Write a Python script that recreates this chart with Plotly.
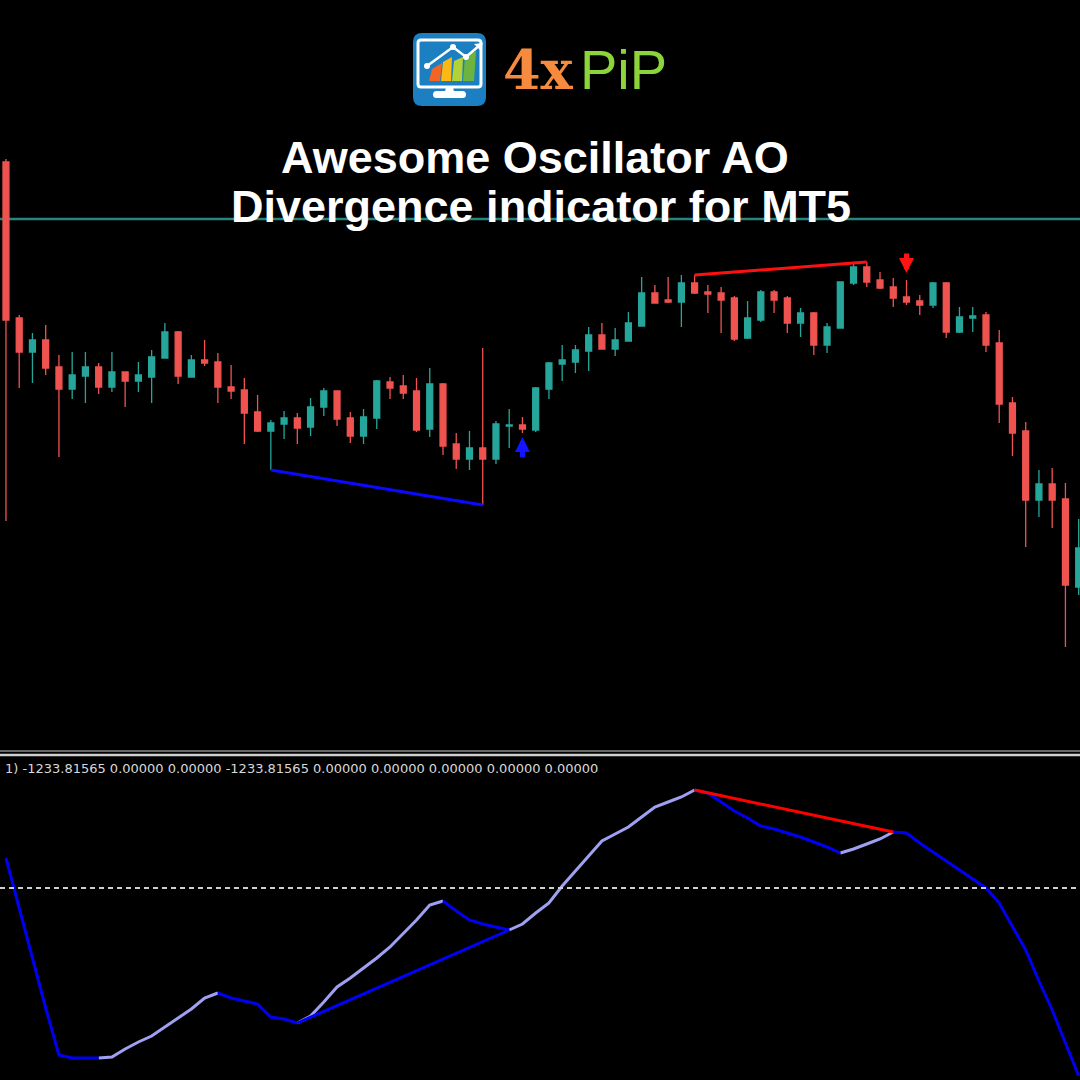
import plotly.graph_objects as go

# ---------------- data ----------------
bars = list(range(82))
open_ = [838, 682, 648, 660, 633, 611, 624, 633, 613, 628, 619, 623, 642, 668, 623, 640, 638, 613, 610, 588,
         569, 576, 582, 573, 593, 609, 582, 564, 582, 618, 614, 609, 571, 616, 556, 541, 552, 541, 574, 575,
         570, 611, 636, 638, 649, 665, 651, 659, 674, 707, 700, 698, 717, 708, 707, 702, 662, 680, 708, 702,
         677, 687, 655, 672, 717, 733, 720, 713, 703, 699, 695, 717, 668, 682, 685, 657, 597, 569, 500, 516,
         501, 413]
high = [841, 685, 667, 675, 645, 648, 648, 637, 648, 628, 638, 650, 677, 669, 645, 660, 647, 635, 622, 605,
        580, 589, 587, 602, 612, 609, 588, 591, 620, 623, 625, 622, 632, 617, 567, 569, 652, 579, 591, 583,
        613, 638, 655, 655, 673, 677, 672, 688, 723, 715, 723, 725, 725, 715, 713, 704, 699, 710, 710, 704,
        692, 688, 677, 718, 737, 738, 728, 722, 720, 705, 718, 718, 693, 693, 688, 670, 603, 578, 530, 532,
        517, 481]
low = [479, 612, 617, 625, 543, 601, 597, 606, 608, 593, 608, 597, 642, 616, 623, 634, 597, 601, 556, 568,
       530, 561, 556, 564, 584, 574, 557, 556, 571, 601, 601, 568, 563, 545, 531, 530, 495, 536, 552, 567,
       568, 601, 619, 627, 629, 651, 644, 659, 674, 697, 697, 673, 706, 687, 667, 659, 661, 678, 687, 667,
       663, 645, 647, 672, 715, 713, 711, 693, 695, 685, 692, 662, 667, 668, 648, 577, 544, 453, 483, 472,
       353, 405]
close = [680, 648, 660, 632, 611, 625, 633, 613, 628, 619, 625, 643, 668, 624, 640, 637, 613, 609, 587, 569,
         577, 582, 572, 593, 609, 581, 564, 583, 619, 612, 607, 570, 616, 554, 541, 552, 541, 576, 575, 571,
         612, 637, 640, 650, 665, 651, 660, 677, 707, 697, 698, 717, 707, 706, 700, 661, 682, 708, 700, 677,
         687, 655, 673, 718, 733, 718, 712, 702, 698, 695, 717, 668, 683, 684, 655, 596, 567, 500, 516, 500,
         415, 452]

resistance_level = 781

# Awesome Oscillator values per bar
ao = [30, -20, -70, -120, -167, -170, -170, -170, -169, -161, -154, -148, -139, -130, -121, -110, -105,
      -110, -113, -116, -129, -131, -135, -128, -114, -99, -90, -80, -70, -59, -46, -32, -17, -13, -23,
      -32, -36, -39, -42, -36, -25, -15, 2, 17, 32, 47, 54, 61, 71, 81, 86, 91, 98, 95, 86, 77, 70, 62,
      59, 55, 51, 46, 41, 35, 39, 44, 49, 56, 55, 45, 36, 27, 18, 9, 0, -15, -38, -62, -93, -122, -155,
      -188]
# 1 = rising (light colour), 0 = falling (dark colour)
ao_rising = [0, 0, 0, 0, 0, 0, 0, 0, 1, 1, 1, 1, 1, 1, 1, 1, 1, 0, 0, 0, 0, 0, 0, 1, 1, 1, 1, 1, 1, 1,
             1, 1, 1, 1, 0, 0, 0, 0, 0, 1, 1, 1, 1, 1, 1, 1, 1, 1, 1, 1, 1, 1, 1, 0, 0, 0, 0, 0, 0, 0,
             0, 0, 0, 0, 1, 1, 1, 1, 0, 0, 0, 0, 0, 0, 0, 0, 0, 0, 0, 0, 0, 0]

# divergences: (bar, value) pairs
bull_div_price = ([20, 36], [530, 495])
bear_div_price = ([52, 65], [725, 738])
bull_div_ao = ([22, 38], [-135, -42])
bear_div_ao = ([52, 67], [98, 56])
buy_arrow = (39, 563, 541)    # bar, tip, tail
sell_arrow = (68, 727, 748)

title_lines = ["Awesome Oscillator AO", "Divergence indicator for MT5"]
ao_label = "1) -1233.81565 0.00000 0.00000 -1233.81565 0.00000 0.00000 0.00000 0.00000 0.00000"

# ---------------- figure ----------------
W = H = 1080
def px(x):
    return x / W
def py(y):
    return 1 - y / H

UP = "#26a69a"
DN = "#ef5350"
LIGHT = "#a0a0f2"
DARK = "#0000f0"

fig = go.Figure()

fig.add_trace(go.Candlestick(
    x=bars, open=open_, high=high, low=low, close=close,
    increasing=dict(line=dict(color=UP, width=1.3), fillcolor=UP),
    decreasing=dict(line=dict(color=DN, width=1.3), fillcolor=DN),
    whiskerwidth=0, xaxis="x", yaxis="y", hoverinfo="skip", showlegend=False,
))

fig.add_trace(go.Scatter(x=bull_div_price[0], y=bull_div_price[1], mode="lines",
                         line=dict(color="#0a0aff", width=3), xaxis="x", yaxis="y", hoverinfo="skip"))
fig.add_trace(go.Scatter(x=bear_div_price[0], y=bear_div_price[1], mode="lines",
                         line=dict(color="#ff1010", width=3), xaxis="x", yaxis="y", hoverinfo="skip"))

# oscillator coloured segments
segs = {0: ([], []), 1: ([], [])}
prev = None
for i in range(1, len(ao)):
    f = ao_rising[i]
    X, Y = segs[f]
    if prev != f:
        if X:
            X.append(None); Y.append(None)
        X.append(bars[i - 1]); Y.append(ao[i - 1])
    X.append(bars[i]); Y.append(ao[i])
    prev = f
for f, col in ((1, LIGHT), (0, DARK)):
    fig.add_trace(go.Scatter(x=segs[f][0], y=segs[f][1], mode="lines",
                             line=dict(color=col, width=3), xaxis="x", yaxis="y2",
                             hoverinfo="skip", connectgaps=False))

fig.add_trace(go.Scatter(x=bull_div_ao[0], y=bull_div_ao[1], mode="lines",
                         line=dict(color="#0000ff", width=3), xaxis="x", yaxis="y2", hoverinfo="skip"))
fig.add_trace(go.Scatter(x=bear_div_ao[0], y=bear_div_ao[1], mode="lines",
                         line=dict(color="#ff0000", width=3), xaxis="x", yaxis="y2", hoverinfo="skip"))

shapes = []
# resistance line
shapes.append(dict(type="line", xref="paper", x0=0, x1=1, yref="y", y0=resistance_level, y1=resistance_level,
                   line=dict(color="#2a847e", width=2.5), layer="below"))
# zero dashed line of oscillator
shapes.append(dict(type="line", xref="paper", x0=0, x1=1, yref="y2", y0=0, y1=0,
                   line=dict(color="#cfcfcf", width=2, dash="5px,4px")))
# panel separator
shapes.append(dict(type="line", xref="paper", yref="paper", x0=0, x1=1, y0=py(751), y1=py(751),
                   line=dict(color="#8a8a8a", width=1.5)))
shapes.append(dict(type="line", xref="paper", yref="paper", x0=0, x1=1, y0=py(755), y1=py(755),
                   line=dict(color="#cfcfcf", width=2.5)))

# ---- logo icon ----
def rrect(x0, y0, x1, y1, r):
    pts = (f"M {px(x0 + r)},{py(y0)} L {px(x1 - r)},{py(y0)} Q {px(x1)},{py(y0)} {px(x1)},{py(y0 + r)} "
           f"L {px(x1)},{py(y1 - r)} Q {px(x1)},{py(y1)} {px(x1 - r)},{py(y1)} "
           f"L {px(x0 + r)},{py(y1)} Q {px(x0)},{py(y1)} {px(x0)},{py(y1 - r)} "
           f"L {px(x0)},{py(y0 + r)} Q {px(x0)},{py(y0)} {px(x0 + r)},{py(y0)} Z")
    return pts

def poly(points):
    return "M " + " L ".join(f"{px(x)},{py(y)}" for x, y in points) + " Z"

shapes.append(dict(type="path", xref="paper", yref="paper", path=rrect(413, 33, 486, 106, 9),
                   fillcolor="#1b7fc2", line=dict(width=0)))
shapes.append(dict(type="path", xref="paper", yref="paper", path=rrect(418, 40, 481, 87, 3),
                   fillcolor="rgba(0,0,0,0)", line=dict(color="white", width=3)))
shapes.append(dict(type="path", xref="paper", yref="paper", path=poly([(446, 87), (453, 87), (454, 92), (445, 92)]),
                   fillcolor="white", line=dict(width=0)))
shapes.append(dict(type="path", xref="paper", yref="paper", path=rrect(433, 91, 466, 98, 3.5),
                   fillcolor="white", line=dict(width=0)))
for pts, col in (([(429, 81), (432, 69), (442, 63), (440, 81)], "#f26522"),
                 ([(441, 81), (443, 62), (452, 57), (451, 81)], "#fdb913"),
                 ([(452, 81), (454, 61), (463, 57), (462, 81)], "#b3d236"),
                 ([(463, 81), (465, 56), (476, 51), (474, 81)], "#6cb33f")):
    shapes.append(dict(type="path", xref="paper", yref="paper", path=poly(pts), fillcolor=col, line=dict(width=0)))
line_pts = [(427, 66), (453, 47), (466, 57), (480, 45)]
shapes.append(dict(type="path", xref="paper", yref="paper",
                   path="M " + " L ".join(f"{px(x)},{py(y)}" for x, y in line_pts),
                   line=dict(color="white", width=2.5)))
for (x, y) in line_pts[:3]:
    shapes.append(dict(type="circle", xref="paper", yref="paper", x0=px(x - 3), x1=px(x + 3), y0=py(y + 3), y1=py(y - 3),
                       fillcolor="white", line=dict(width=0)))
shapes.append(dict(type="path", xref="paper", yref="paper", path=poly([(483, 43), (474, 44), (480, 50)]),
                   fillcolor="white", line=dict(width=0)))

annotations = [
    dict(text="<b>" + title_lines[0] + "</b>", xref="paper", yref="paper", x=px(535), y=py(158),
         xanchor="center", yanchor="middle", showarrow=False,
         font=dict(family="Liberation Sans, Arial, sans-serif", size=45, color="white")),
    dict(text="<b>" + title_lines[1] + "</b>", xref="paper", yref="paper", x=px(540.5), y=py(207),
         xanchor="center", yanchor="middle", showarrow=False,
         font=dict(family="Liberation Sans, Arial, sans-serif", size=45, color="white")),
    dict(text="<b>4x</b>", xref="paper", yref="paper", x=px(501), y=py(70), xanchor="left", yanchor="middle",
         showarrow=False, font=dict(family="DejaVu Serif, serif", size=54, color="#f68b3f")),
    dict(text="PiP", xref="paper", yref="paper", x=px(578), y=py(70), xanchor="left", yanchor="middle",
         showarrow=False, font=dict(family="Liberation Sans, Arial, sans-serif", size=56, color="#8dd43a")),
    dict(text=ao_label, xref="paper", yref="paper", x=px(3), y=py(768), xanchor="left", yanchor="middle",
         showarrow=False, font=dict(family="DejaVu Sans, sans-serif", size=13, color="#d8d8d8")),
    dict(text="", x=buy_arrow[0], y=buy_arrow[1], ax=buy_arrow[0], ay=buy_arrow[2], xref="x", yref="y",
         axref="x", ayref="y", showarrow=True, arrowhead=2, arrowsize=0.6, arrowwidth=5, arrowcolor="#1414ff"),
    dict(text="", x=sell_arrow[0], y=sell_arrow[1], ax=sell_arrow[0], ay=sell_arrow[2], xref="x", yref="y",
         axref="x", ayref="y", showarrow=True, arrowhead=2, arrowsize=0.6, arrowwidth=5, arrowcolor="#ff1414"),
]

fig.update_layout(
    width=W, height=H, margin=dict(l=0, r=0, t=0, b=0),
    paper_bgcolor="black", plot_bgcolor="black",
    showlegend=False, hovermode=False, boxgap=0.36,
    xaxis=dict(range=[-0.45, 81.1], visible=False, showgrid=False, zeroline=False,
               rangeslider=dict(visible=False), anchor="y2"),
    yaxis=dict(domain=[py(756), 1], range=[244, 1000], visible=False, showgrid=False, zeroline=False),
    yaxis2=dict(domain=[0, py(760)], range=[-192, 128], visible=False, showgrid=False, zeroline=False,
                anchor="x"),
    shapes=shapes, annotations=annotations,
)

fig.write_html("out.html", config={"displayModeBar": False},
               post_script="document.body.style.margin='0px';document.body.style.background='black';")
